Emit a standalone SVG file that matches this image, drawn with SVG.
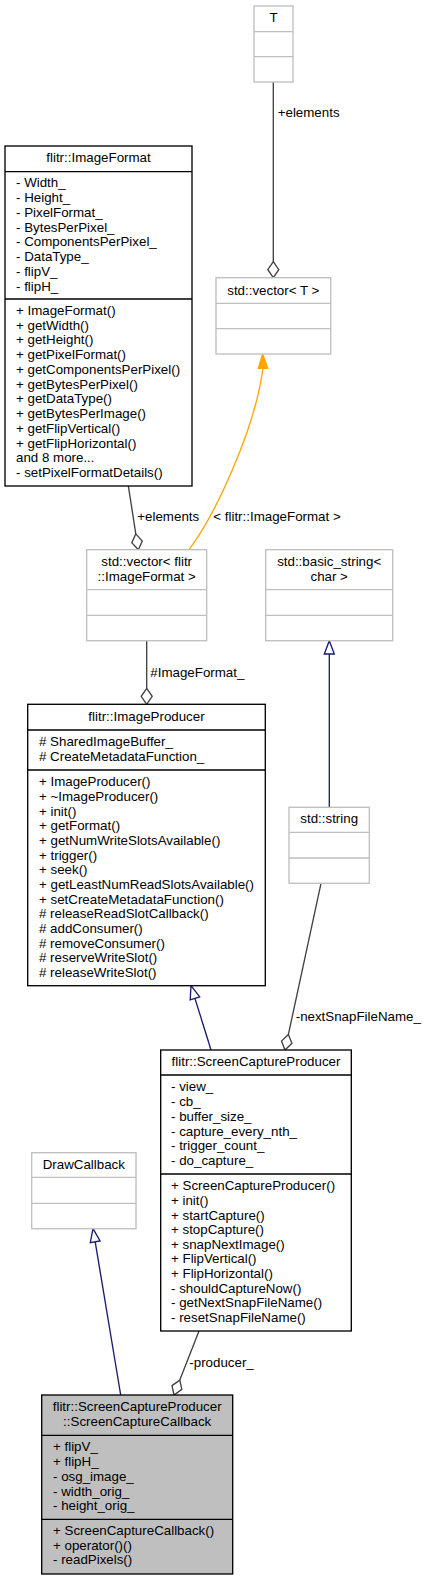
<svg xmlns="http://www.w3.org/2000/svg" width="427" height="1580" viewBox="0 0 427 1580">
<style>
text{font-family:"Liberation Sans",Arial,Helvetica,sans-serif;font-size:13.33px;fill:#000}
.c{text-anchor:middle}
.bk{fill:#fff;stroke:#000;stroke-width:1.33}
.gy{fill:#fff;stroke:#bfbfbf;stroke-width:1.33}
.hl{fill:#bfbfbf;stroke:#000;stroke-width:1.33}
.dl{stroke:#000;stroke-width:1.33}
.dg{stroke:#bfbfbf;stroke-width:1.33}
.agg{fill:none;stroke:#404040;stroke-width:1.33}
.aggh{fill:#fff;stroke:#404040;stroke-width:1.33}
.inh{fill:none;stroke:#191970;stroke-width:1.33}
.inhh{fill:#fff;stroke:#191970;stroke-width:1.33}
.tpl{fill:none;stroke:orange;stroke-width:1.33}
.tplh{fill:orange;stroke:orange;stroke-width:1.33}
</style>
<rect width="427" height="1580" fill="#fff"/>
<g id="edges">
<path class="agg" d="M273.3,82 L273.3,261.7"/>
<path class="aggh" d="M273.3,261.7 L278.8,269.7 L273.3,277.7 L267.8,269.7 Z"/>
<text x="277.7" y="117">+elements</text>
<path class="agg" d="M128.3,485.7 L135.8,533.9"/>
<path class="aggh" d="M135.8,533.9 L142.3,541 L138.3,549.7 L131.8,542.6 Z"/>
<text x="137.3" y="521">+elements</text>
<path class="tpl" d="M189,549.7 C215,515 255,430 263,368"/>
<path class="tplh" d="M262.7,354 L267.7,368.3 L258.3,368.3 Z"/>
<text x="213.3" y="521">&lt; flitr::ImageFormat &gt;</text>
<path class="agg" d="M146.7,640.7 L146.7,688.3"/>
<path class="aggh" d="M146.7,688.3 L152.2,696.3 L146.7,704.3 L141.2,696.3 Z"/>
<text x="150.3" y="676.5">#ImageFormat_</text>
<path class="inh" d="M329.3,654 L329.3,807.3"/>
<path class="inhh" d="M329.3,640.7 L334.3,654 L324.3,654 Z"/>
<path class="agg" d="M321,883.3 L288.4,1034.4"/>
<path class="aggh" d="M288.4,1034.4 L291.9,1043.3 L285,1050 L281.5,1041.1 Z"/>
<text x="295.7" y="1021.2">-nextSnapFileName_</text>
<path class="inh" d="M211,1050 L194.95,998.4"/>
<path class="inhh" d="M191,985.7 L199.7,996.9 L190.2,999.9 Z"/>
<path class="inh" d="M120.7,1395 L95.2,1241.8"/>
<path class="inhh" d="M93,1228.7 L100.1,1241 L90.3,1242.6 Z"/>
<path class="agg" d="M199,1331 L179.8,1380.1"/>
<path class="aggh" d="M179.8,1380.1 L181.8,1389.4 L174,1395 L172,1385.6 Z"/>
<text x="189.3" y="1367.2">-producer_</text>
</g>
<g id="T">
<rect class="gy" x="254" y="6" width="39" height="76"/>
<path class="dg" d="M254,31.7 H293 M254,56.7 H293"/>
<text class="c" x="273.5" y="21.8">T</text>
</g>
<g id="ImageFormat">
<rect class="bk" x="5" y="146" width="187" height="340"/>
<path class="dl" d="M5,171.7 H192 M5,299 H192"/>
<text class="c" x="98.5" y="162.2">flitr::ImageFormat</text>
<text x="16" y="187.2">- Width_</text>
<text x="16" y="202">- Height_</text>
<text x="16" y="216.7">- PixelFormat_</text>
<text x="16" y="231.5">- BytesPerPixel_</text>
<text x="16" y="246.2">- ComponentsPerPixel_</text>
<text x="16" y="261">- DataType_</text>
<text x="16" y="275.8">- flipV_</text>
<text x="16" y="290.5">- flipH_</text>
<text x="16" y="314.8">+ ImageFormat()</text>
<text x="16" y="329.6">+ getWidth()</text>
<text x="16" y="344.3">+ getHeight()</text>
<text x="16" y="359.1">+ getPixelFormat()</text>
<text x="16" y="373.8">+ getComponentsPerPixel()</text>
<text x="16" y="388.6">+ getBytesPerPixel()</text>
<text x="16" y="403.4">+ getDataType()</text>
<text x="16" y="418.1">+ getBytesPerImage()</text>
<text x="16" y="432.9">+ getFlipVertical()</text>
<text x="16" y="447.6">+ getFlipHorizontal()</text>
<text x="16" y="462.4">and 8 more...</text>
<text x="16" y="477.2">- setPixelFormatDetails()</text>
</g>
<g id="vectorT">
<rect class="gy" x="216" y="277.7" width="114.7" height="76.3"/>
<path class="dg" d="M216,303.3 H330.7 M216,328.7 H330.7"/>
<text class="c" x="273.3" y="294.5">std::vector&lt; T &gt;</text>
</g>
<g id="vectorImageFormat">
<rect class="gy" x="86.7" y="549.7" width="120" height="91"/>
<path class="dg" d="M86.7,589.7 H206.7 M86.7,615.3 H206.7"/>
<text class="c" x="146.7" y="565.8">std::vector&lt; flitr</text>
<text class="c" x="146.7" y="581.2">::ImageFormat &gt;</text>
</g>
<g id="basicString">
<rect class="gy" x="265.7" y="549.7" width="127" height="91"/>
<path class="dg" d="M265.7,589.7 H392.7 M265.7,615.3 H392.7"/>
<text class="c" x="329.2" y="565.8">std::basic_string&lt;</text>
<text class="c" x="329.2" y="581.2">char &gt;</text>
</g>
<g id="ImageProducer">
<rect class="bk" x="27.7" y="704.3" width="237.6" height="281.4"/>
<path class="dl" d="M27.7,730 H265.3 M27.7,770 H265.3"/>
<text class="c" x="146.5" y="721.2">flitr::ImageProducer</text>
<text x="39" y="746.2"># SharedImageBuffer_</text>
<text x="39" y="761.2"># CreateMetadataFunction_</text>
<text x="39" y="786.2">+ ImageProducer()</text>
<text x="39" y="800.9">+ ~ImageProducer()</text>
<text x="39" y="815.5">+ init()</text>
<text x="39" y="830.2">+ getFormat()</text>
<text x="39" y="844.8">+ getNumWriteSlotsAvailable()</text>
<text x="39" y="859.5">+ trigger()</text>
<text x="39" y="874.2">+ seek()</text>
<text x="39" y="888.8">+ getLeastNumReadSlotsAvailable()</text>
<text x="39" y="903.5">+ setCreateMetadataFunction()</text>
<text x="39" y="918.1"># releaseReadSlotCallback()</text>
<text x="39" y="932.8"># addConsumer()</text>
<text x="39" y="947.5"># removeConsumer()</text>
<text x="39" y="962.1"># reserveWriteSlot()</text>
<text x="39" y="976.8"># releaseWriteSlot()</text>
</g>
<g id="stdString">
<rect class="gy" x="289" y="807.3" width="80.3" height="76"/>
<path class="dg" d="M289,832.3 H369.3 M289,858 H369.3"/>
<text class="c" x="329.2" y="823.2">std::string</text>
</g>
<g id="ScreenCaptureProducer">
<rect class="bk" x="160.7" y="1050" width="190.6" height="281"/>
<path class="dl" d="M160.7,1075 H351.3 M160.7,1174 H351.3"/>
<text class="c" x="256" y="1066.2">flitr::ScreenCaptureProducer</text>
<text x="171" y="1091.2">- view_</text>
<text x="171" y="1106">- cb_</text>
<text x="171" y="1120.7">- buffer_size_</text>
<text x="171" y="1135.5">- capture_every_nth_</text>
<text x="171" y="1150.2">- trigger_count_</text>
<text x="171" y="1165">- do_capture_</text>
<text x="171" y="1190.2">+ ScreenCaptureProducer()</text>
<text x="171" y="1204.8">+ init()</text>
<text x="171" y="1219.5">+ startCapture()</text>
<text x="171" y="1234.1">+ stopCapture()</text>
<text x="171" y="1248.8">+ snapNextImage()</text>
<text x="171" y="1263.4">+ FlipVertical()</text>
<text x="171" y="1278">+ FlipHorizontal()</text>
<text x="171" y="1292.7">- shouldCaptureNow()</text>
<text x="171" y="1307.3">- getNextSnapFileName()</text>
<text x="171" y="1322">- resetSnapFileName()</text>
</g>
<g id="DrawCallback">
<rect class="gy" x="31.7" y="1152.7" width="104.3" height="76"/>
<path class="dg" d="M31.7,1177.3 H136 M31.7,1203.3 H136"/>
<text class="c" x="83.8" y="1168.8">DrawCallback</text>
</g>
<g id="ScreenCaptureCallback">
<rect class="hl" x="41.7" y="1395" width="191" height="179"/>
<path class="dl" d="M41.7,1435.3 H232.7 M41.7,1519.3 H232.7"/>
<text class="c" x="137.2" y="1411.2">flitr::ScreenCaptureProducer</text>
<text class="c" x="137.2" y="1426.2">::ScreenCaptureCallback</text>
<text x="53" y="1451.2">+ flipV_</text>
<text x="53" y="1466">+ flipH_</text>
<text x="53" y="1480.7">- osg_image_</text>
<text x="53" y="1495.5">- width_orig_</text>
<text x="53" y="1510.2">- height_orig_</text>
<text x="53" y="1534.8">+ ScreenCaptureCallback()</text>
<text x="53" y="1549.6">+ operator()()</text>
<text x="53" y="1564.4">- readPixels()</text>
</g>
</svg>
